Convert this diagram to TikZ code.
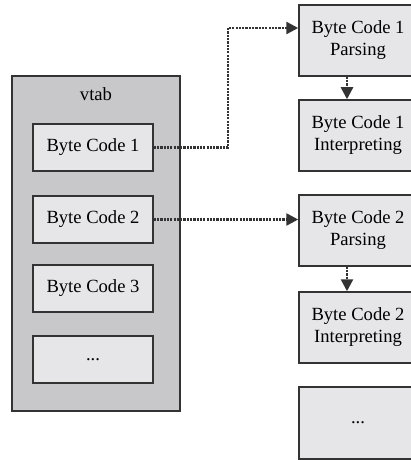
\documentclass[tikz,border=0pt]{standalone}
\usepackage{fontspec}
\setmainfont{Liberation Serif}
\usetikzlibrary{arrows.meta}

\definecolor{vtabgray}{HTML}{C8C8CA}
\definecolor{boxgray}{HTML}{E6E6E8}
\definecolor{edgegray}{HTML}{333333}

\tikzset{
	outerbox/.style={draw=edgegray,fill=vtabgray,line width=0.75pt,minimum width=84pt,minimum height=167.5pt},
	codebox/.style={draw=edgegray,fill=boxgray,line width=0.75pt,minimum width=60pt,minimum height=23.5pt,inner sep=0pt},
	stagebox/.style={draw=edgegray,fill=boxgray,line width=0.75pt,minimum width=59pt,minimum height=35.5pt,inner sep=0pt,align=center},
	dotarrow/.style={edgegray,line width=1.25pt,dash pattern=on 1.1pt off 0.55pt,-{Triangle[length=6pt,width=6pt]}}
}

\begin{document}
\begin{tikzpicture}[x=0.5pt,y=-0.5pt,font=\fontsize{9.3}{11}\selectfont]
	\useasboundingbox (0,0) rectangle (411,460);
	%VTAB
	\node[outerbox] (vtab) at (96,243.5) {};
	\node (vtablabel) at (96,94) {vtab};
	\node[codebox] (bc1) at (93,147.5) {Byte Code 1};
	\node[codebox] (bc2) at (93,219.5) {Byte Code 2};
	\node[codebox] (bc3) at (93,288.5) {Byte Code 3};
	\node[codebox] (bcmore) at (93,359.5) {...};

	%STAGES
	\node[stagebox] (p1) at (358,40.5) {Byte Code 1\\Parsing};
	\node[stagebox] (i1) at (358,135.5) {Byte Code 1\\Interpreting};
	\node[stagebox] (p2) at (358,230.5) {Byte Code 2\\Parsing};
	\node[stagebox] (i2) at (358,327.5) {Byte Code 2\\Interpreting};
	\node[stagebox,minimum height=36pt] (smore) at (358,423) {...};

	%ARROWS
	\coordinate (k1) at (228,28);
	\coordinate (down) at (347,0);
	\draw[dotarrow] (bc1.east) -| (k1) -- (k1 -| p1.west);
	\draw[dotarrow] (bc2.east) -- (bc2.east -| p2.west);
	\draw[dotarrow] (p1.south -| down) -- (i1.north -| down);
	\draw[dotarrow] (p2.south -| down) -- (i2.north -| down);
\end{tikzpicture}
\end{document}
